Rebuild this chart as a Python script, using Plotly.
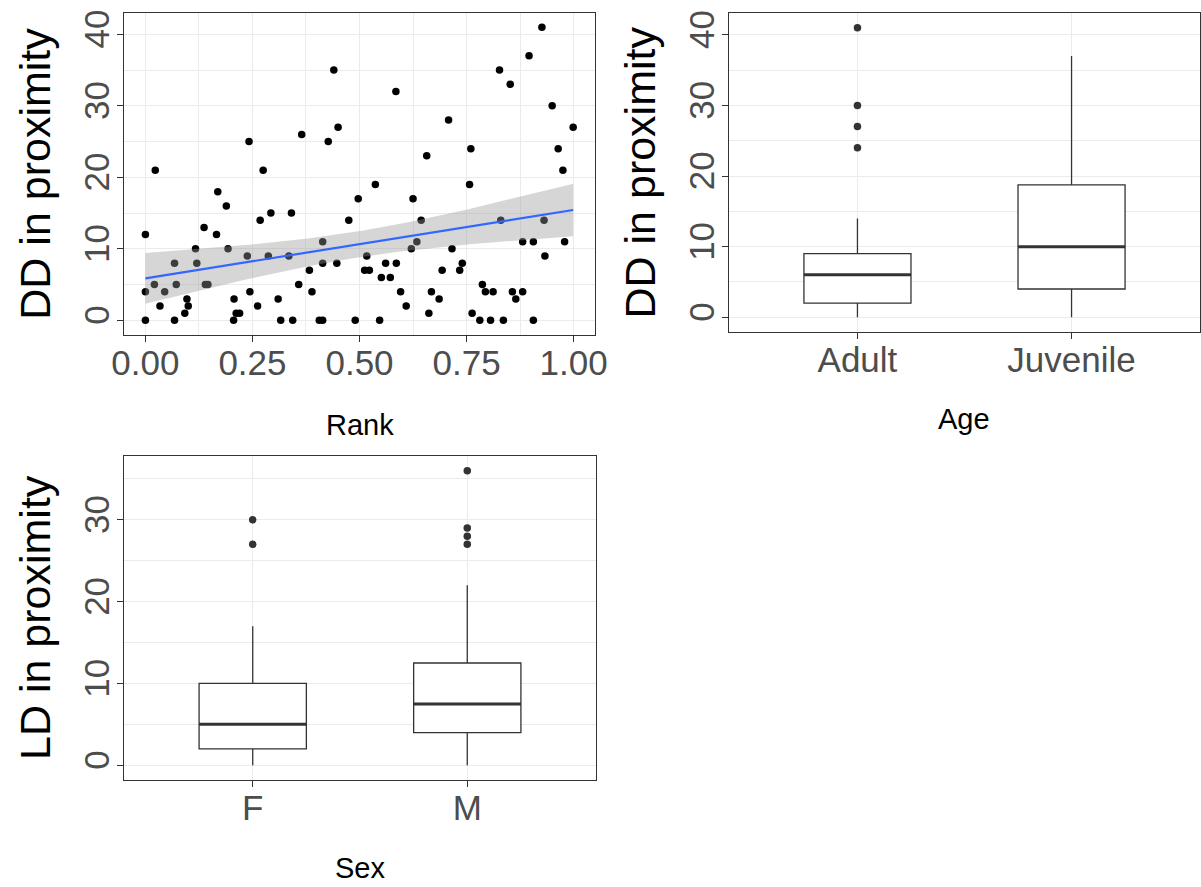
import numpy as np
import plotly.graph_objects as go

# ---------------- data ----------------
rank = [0.000, 0.023, 0.000, 0.000, 0.021, 0.034, 0.045, 0.068, 0.072, 0.068,
        0.097, 0.100, 0.092, 0.117, 0.120, 0.137, 0.140, 0.146, 0.166, 0.169,
        0.189, 0.193, 0.207, 0.206, 0.212, 0.220, 0.242, 0.238, 0.244, 0.262,
        0.268, 0.275, 0.293, 0.287, 0.310, 0.316, 0.335, 0.341, 0.344, 0.358,
        0.365, 0.383, 0.389, 0.406, 0.414, 0.414, 0.414, 0.427, 0.440, 0.450,
        0.447, 0.475, 0.490, 0.497, 0.517, 0.512, 0.523, 0.537, 0.551, 0.572,
        0.561, 0.586, 0.585, 0.547, 0.596, 0.609, 0.625, 0.621, 0.634, 0.644,
        0.657, 0.662, 0.668, 0.686, 0.693, 0.708, 0.716, 0.734, 0.740, 0.757,
        0.760, 0.763, 0.781, 0.787, 0.794, 0.812, 0.806, 0.827, 0.830, 0.836,
        0.852, 0.857, 0.865, 0.881, 0.881, 0.906, 0.906, 0.896, 0.926, 0.931,
        0.933, 0.950, 0.964, 0.975, 0.979, 0.999]
dd_rank = [12, 21, 4, 0, 5, 2, 4, 8, 5, 0,
           3, 2, 1, 10, 8, 13, 5, 5, 12, 18,
           16, 10, 3, 0, 1, 1, 25, 9, 4, 2,
           14, 21, 15, 9, 3, 0, 9, 15, 0, 5,
           26, 7, 4, 0, 0, 11, 8, 25, 35, 27,
           8, 14, 0, 17, 9, 7, 7, 19, 6, 6,
           8, 8, 32, 0, 4, 2, 17, 10, 11, 14,
           23, 1, 4, 3, 7, 28, 10, 7, 8, 19,
           24, 1, 0, 5, 4, 4, 0, 35, 14, 0,
           33, 4, 3, 4, 11, 11, 0, 37, 41, 14,
           9, 30, 24, 21, 11, 27]

age_cats = ["Adult", "Juvenile"]
age_q1 = [2, 4]
age_median = [6, 10]
age_q3 = [9, 18.75]
age_lower = [0, 0]
age_upper = [14, 37]
age_out_cat = ["Adult", "Adult", "Adult", "Adult"]
age_out_val = [24, 27, 30, 41]

sex_cats = ["F", "M"]
sex_q1 = [2, 4]
sex_median = [5, 7.5]
sex_q3 = [10, 12.5]
sex_lower = [0, 0]
sex_upper = [17, 22]
sex_out_cat = ["F", "F", "M", "M", "M", "M"]
sex_out_val = [27, 30, 27, 28, 29, 36]

rank_ticks = [0, 0.25, 0.5, 0.75, 1.0]
rank_ticktext = ["0.00", "0.25", "0.50", "0.75", "1.00"]

# ---------------- linear fit with 95% CI ----------------
xa = np.array(rank, dtype=float)
ya = np.array(dd_rank, dtype=float)
n = len(xa)
b1, b0 = np.polyfit(xa, ya, 1)
xs = np.linspace(xa.min(), xa.max(), 80)
yhat = b0 + b1 * xs
resid = ya - (b0 + b1 * xa)
s = np.sqrt(np.sum(resid ** 2) / (n - 2))
sxx = np.sum((xa - xa.mean()) ** 2)
se = s * np.sqrt(1.0 / n + (xs - xa.mean()) ** 2 / sxx)
tq = 1.983
lo = yhat - tq * se
hi = yhat + tq * se

# ---------------- style ----------------
FONT = "Liberation Sans, Arial, sans-serif"
BORDER = "#333333"
GRID = "#EBEBEB"
TICKC = "#4D4D4D"
W, H = 1201, 887


def px_x(p):
    return p / W


def px_y(p):
    return 1 - p / H


fig = go.Figure()

# Panel 1: scatter
fig.add_trace(go.Scatter(x=rank, y=dd_rank, mode="markers",
                         marker=dict(color="black", size=7.5, line=dict(width=0)),
                         xaxis="x", yaxis="y", showlegend=False, hoverinfo="skip"))
fig.add_trace(go.Scatter(x=np.concatenate([xs, xs[::-1]]), y=np.concatenate([hi, lo[::-1]]),
                         mode="lines", fill="toself", fillcolor="rgba(153,153,153,0.4)",
                         line=dict(width=0), xaxis="x", yaxis="y", showlegend=False,
                         hoverinfo="skip"))
fig.add_trace(go.Scatter(x=xs, y=yhat, mode="lines", line=dict(color="#3366FF", width=2.2),
                         xaxis="x", yaxis="y", showlegend=False, hoverinfo="skip"))


def add_box(cats, q1, med, q3, lower, upper, out_cat, out_val, xa_name, ya_name):
    pos = list(range(len(cats)))
    fig.add_trace(go.Box(x=pos, q1=q1, median=med, q3=q3, lowerfence=lower, upperfence=upper,
                         width=0.5, whiskerwidth=0, fillcolor="white",
                         line=dict(color=BORDER, width=1.3), boxpoints=False,
                         xaxis=xa_name, yaxis=ya_name, showlegend=False, hoverinfo="skip"))
    mx, my = [], []
    for i, m in enumerate(med):
        mx += [i - 0.25, i + 0.25, None]
        my += [m, m, None]
    fig.add_trace(go.Scatter(x=mx, y=my, mode="lines", line=dict(color=BORDER, width=3),
                             xaxis=xa_name, yaxis=ya_name, showlegend=False, hoverinfo="skip"))
    fig.add_trace(go.Scatter(x=[cats.index(c) for c in out_cat], y=out_val, mode="markers",
                             marker=dict(color=BORDER, size=7.5, line=dict(width=0)),
                             xaxis=xa_name, yaxis=ya_name, showlegend=False, hoverinfo="skip"))


add_box(age_cats, age_q1, age_median, age_q3, age_lower, age_upper,
        age_out_cat, age_out_val, "x2", "y2")
add_box(sex_cats, sex_q1, sex_median, sex_q3, sex_lower, sex_upper,
        sex_out_cat, sex_out_val, "x3", "y3")

common = dict(showline=True, mirror=True, linecolor=BORDER, linewidth=1.3,
              zeroline=False, showgrid=True, gridcolor=GRID, gridwidth=1.3,
              ticks="outside", ticklen=6, tickwidth=1.3, tickcolor=BORDER,
              tickfont=dict(family=FONT, size=35, color=TICKC), fixedrange=True)
xcommon = dict(common, ticklabelstandoff=-9)
ycommon = dict(common, ticklabelstandoff=-6)

yminor = dict(dtick=5, tick0=0, showgrid=True, gridcolor=GRID, gridwidth=0.8, ticks="")

fig.update_layout(
    width=W, height=H, margin=dict(l=0, r=0, t=0, b=0),
    paper_bgcolor="white", plot_bgcolor="white", template="none",
    font=dict(family=FONT),
    xaxis=dict(domain=[px_x(124), px_x(595)], range=[-0.05, 1.05], anchor="y",
               tickmode="array", tickvals=rank_ticks, ticktext=rank_ticktext,
               minor=dict(dtick=0.125, tick0=0, showgrid=True, gridcolor=GRID,
                          gridwidth=0.8, ticks=""), **xcommon),
    yaxis=dict(domain=[px_y(335), px_y(12.5)], range=[-2.05, 43.05], anchor="x",
               tickmode="linear", tick0=0, dtick=10, tickangle=-90, minor=yminor, **ycommon),
    xaxis2=dict(domain=[px_x(729), px_x(1200)], range=[-0.6, 1.6], anchor="y2",
                tickmode="array", tickvals=list(range(len(age_cats))), ticktext=age_cats,
                **xcommon),
    yaxis2=dict(domain=[px_y(331.7), px_y(13.3)], range=[-2.05, 43.05], anchor="x2",
                tickmode="linear", tick0=0, dtick=10, tickangle=-90, minor=yminor, **ycommon),
    xaxis3=dict(domain=[px_x(124), px_x(596)], range=[-0.6, 1.6], anchor="y3",
                tickmode="array", tickvals=list(range(len(sex_cats))), ticktext=sex_cats,
                **xcommon),
    yaxis3=dict(domain=[px_y(780), px_y(456)], range=[-1.8, 37.8], anchor="x3",
                tickmode="linear", tick0=0, dtick=10, tickangle=-90, minor=yminor, **ycommon),
)

titles = [
    ("Rank", 359.5, 425, 0, 29),
    ("Age", 964.5, 419, 0, 29),
    ("Sex", 360, 868, 0, 29),
    ("DD in proximity", 35, 173.7, -90, 43),
    ("DD in proximity", 640, 172.5, -90, 43),
    ("LD in proximity", 35, 618, -90, 43),
]
for text, xp, yp, ang, size in titles:
    fig.add_annotation(text=text, x=px_x(xp), y=px_y(yp), xref="paper", yref="paper",
                       xanchor="center", yanchor="middle", showarrow=False, textangle=ang,
                       font=dict(family=FONT, size=size, color="black"))

fig.write_html("out.html")
